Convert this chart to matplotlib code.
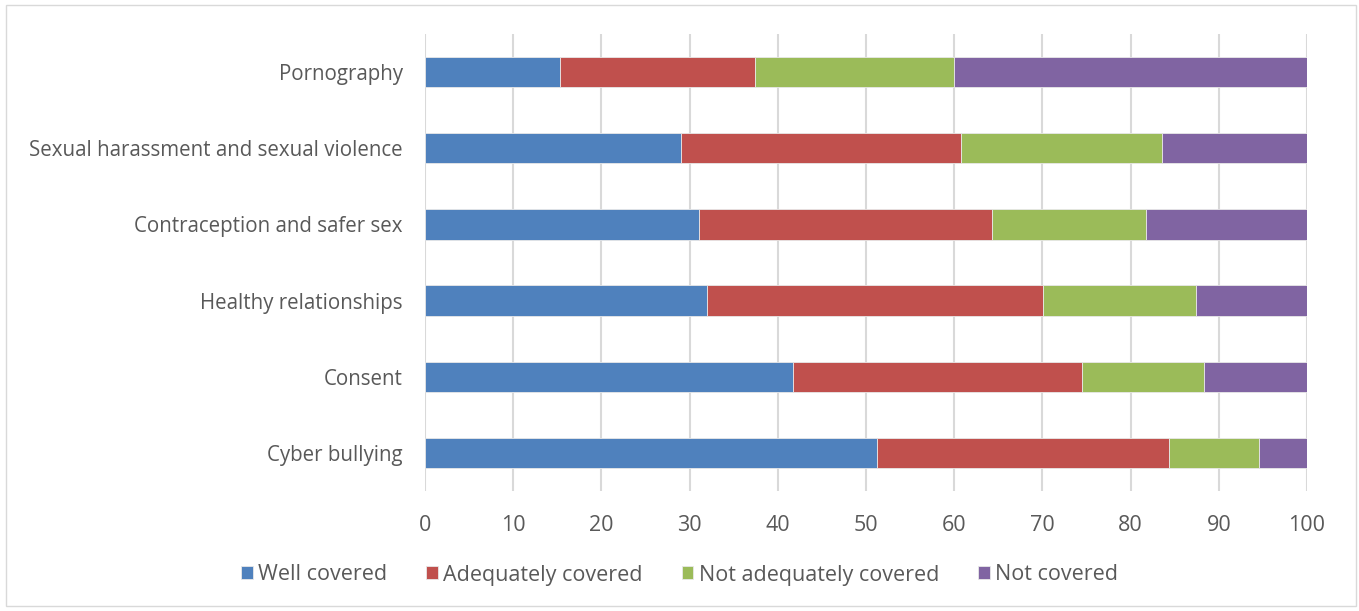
import matplotlib.pyplot as plt
import numpy as np

# Survey results: share of respondents (%) per topic
topics = ["Cyber bullying", "Consent", "Healthy relationships",
          "Contraception and safer sex", "Sexual harassment and sexual violence",
          "Pornography"]
well_covered = [51.2, 41.7, 32.0, 31.1, 29.0, 15.3]
adequately_covered = [33.2, 32.8, 38.1, 33.2, 31.8, 22.1]
not_adequately_covered = [10.2, 13.8, 17.3, 17.4, 22.8, 22.6]
not_covered = [5.4, 11.7, 12.6, 18.3, 16.4, 40.0]

series = [
    ("Well covered", well_covered, "#4F81BD"),
    ("Adequately covered", adequately_covered, "#C0504D"),
    ("Not adequately covered", not_adequately_covered, "#9BBB59"),
    ("Not covered", not_covered, "#8064A2"),
]

plt.rcParams['font.family'] = ['Open Sans', 'DejaVu Sans']
text_col = "#595959"

fig = plt.figure(figsize=(13.59, 6.11), dpi=100)
ax = fig.add_axes([425 / 1359, 1 - 491 / 611, 882 / 1359, 457 / 611])

y = np.arange(len(topics))
left = np.zeros(len(topics))
for name, vals, col in series:
    ax.barh(y, vals, left=left, height=0.4, color=col, label=name,
            edgecolor="#e8e8e8", linewidth=0.6, zorder=3)
    left += np.array(vals)

ax.set_xlim(0, 100)
ax.set_ylim(-0.5, len(topics) - 0.5)
ax.set_xticks(np.arange(0, 101, 10))
ax.set_yticks(y)
ax.set_yticklabels(topics)
ax.tick_params(axis='both', length=0, colors=text_col)
ax.tick_params(axis='y', pad=16, labelsize=14.8)
ax.tick_params(axis='x', pad=17, labelsize=15.5)
ax.grid(axis='x', color="#d9d9d9", linewidth=1.5, zorder=0)
for s in ax.spines.values():
    s.set_visible(False)

leg = fig.legend(loc='center', bbox_to_anchor=(0.5, 1 - 575 / 611), ncol=4,
                 frameon=False, fontsize=15.5, handlelength=0.55, handleheight=0.55,
                 handletextpad=0.25, columnspacing=1.8)
for t in leg.get_texts():
    t.set_color(text_col)

# light frame around the whole chart
fig.patches.append(plt.Rectangle((6 / 1359, 5 / 611), 1350 / 1359, 601 / 611,
                                 transform=fig.transFigure, fill=False,
                                 edgecolor="#d9d9d9", linewidth=1))

fig.savefig("out.png", dpi=100)
